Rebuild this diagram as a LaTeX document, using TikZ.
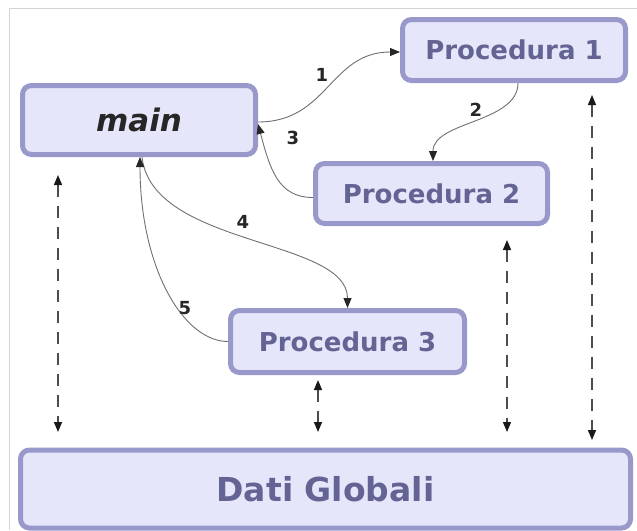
\documentclass[tikz,border=0pt]{standalone}
\usepackage{fontspec}
\setmainfont{DejaVu Sans}
\usetikzlibrary{arrows.meta}
\definecolor{boxfill}{HTML}{E6E6FA}
\definecolor{boxline}{HTML}{9898CA}
\definecolor{boxtext}{HTML}{646494}
\definecolor{wire}{HTML}{6E6E78}
\definecolor{frameline}{HTML}{D4D4D4}
\tikzset{
  x=1pt, y=-1pt,
  procbox/.style={draw=boxline, fill=boxfill, line width=5pt, rounded corners=9pt,
    inner sep=0pt, text=boxtext, font=\bfseries\fontsize{26}{30}\selectfont},
  callwire/.style={draw=wire, line width=0.9pt,
    -{Triangle[length=10pt,width=8pt,fill=black!85,color=black!85]}},
  stepnum/.style={font=\bfseries\fontsize{18}{20}\selectfont, text=black!85, inner sep=0pt},
  datalink/.style={draw=black!70, line width=1.3pt, dash pattern=on 12pt off 9pt,
    {Triangle[length=10pt,width=8pt,color=black!90]}-{Triangle[length=10pt,width=8pt,color=black!90]}}
}
\begin{document}
\begin{tikzpicture}
\useasboundingbox (0,0) rectangle (637,530);
% thin page frame
\draw[frameline, line width=1pt] (9,530) -- (9,8) -- (637,8);

% boxes
\node[procbox, minimum width=233pt, minimum height=69pt,
  text=black!85, font=\bfseries\itshape\fontsize{31}{34}\selectfont] (main) at (139,120) {main};
\node[procbox, minimum width=223pt, minimum height=61pt] (p1) at (514,50) {Procedura 1};
\node[procbox, minimum width=232pt, minimum height=60pt] (p2) at (431.5,193.5) {Procedura 2};
\node[procbox, minimum width=234pt, minimum height=62pt] (p3) at (347.5,341.5) {Procedura 3};
\node[procbox, minimum width=610pt, minimum height=78pt,
  font=\bfseries\fontsize{33}{36}\selectfont] (dati) at (325.5,489) {Dati Globali};

% calls between procedures
\draw[callwire] ([yshift=-2pt]main.east) .. controls +(70,0) and +(-70,0) .. ([yshift=-2pt]p1.west);
\draw[callwire] ([xshift=4pt]p1.south) .. controls +(0,40) and +(0,-40) .. ([xshift=1.5pt]p2.north);
\draw[callwire] ([yshift=-4pt]p2.west) .. controls +(-35,0) and +(12,45) .. ([yshift=-4pt]main.east);
\draw[callwire] ([xshift=3pt]main.south) .. controls +(10,90) and +(0,-70) .. (p3.north);
\draw[callwire] (p3.west) .. controls +(-45,0) and +(0,110) .. ([xshift=1pt]main.south);

% step numbers
\node[stepnum] (n1) at (322,75) {1};
\node[stepnum] (n2) at (476,110) {2};
\node[stepnum] (n3) at (293,138) {3};
\node[stepnum] (n4) at (243,222) {4};
\node[stepnum] (n5) at (185,308) {5};

% access to global data
\coordinate (a1) at (58,175);  \coordinate (b1) at (58,432);
\coordinate (a2) at (318,380); \coordinate (b2) at (318,432);
\coordinate (a3) at (507,240); \coordinate (b3) at (507,432);
\coordinate (a4) at (592,95);  \coordinate (b4) at (592,440);
\draw[datalink] (a1) -- (b1);
\draw[datalink] (a2) -- (b2);
\draw[datalink] (a3) -- (b3);
\draw[datalink] (a4) -- (b4);
\end{tikzpicture}
\end{document}
